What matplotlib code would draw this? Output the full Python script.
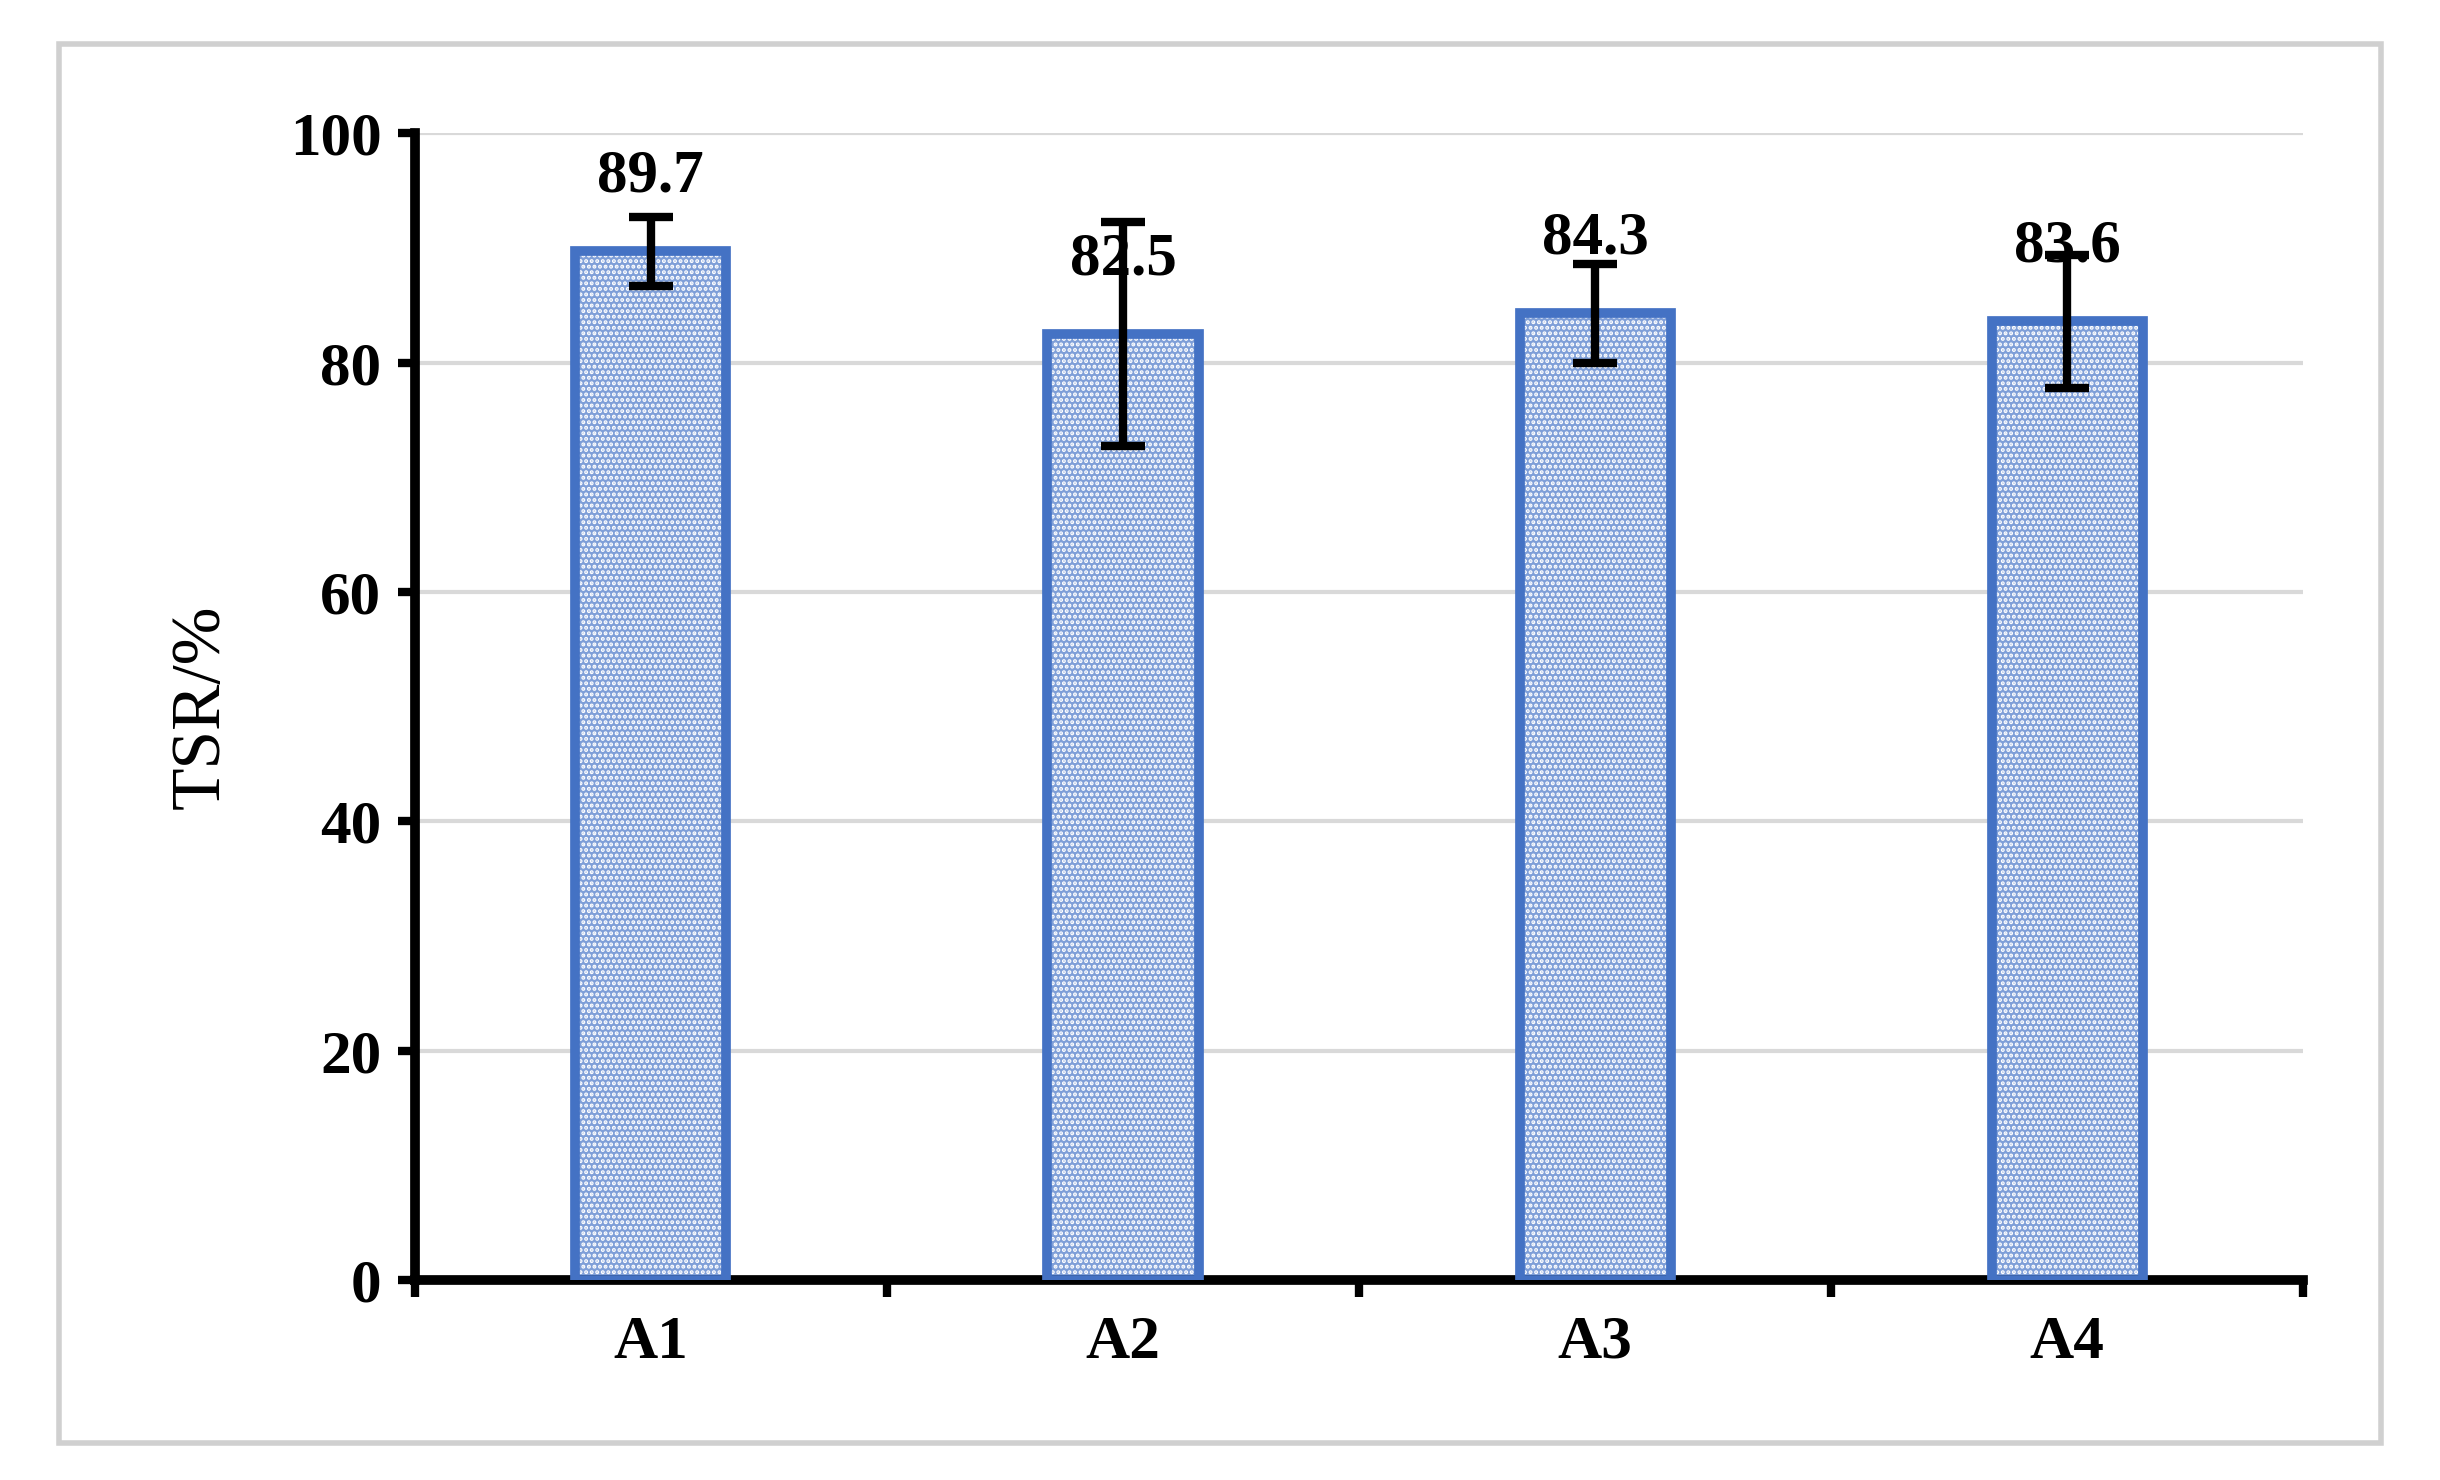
import matplotlib.pyplot as plt
from matplotlib.patches import Rectangle

groups = ['A1', 'A2', 'A3', 'A4']
tsr = [89.7, 82.5, 84.3, 83.6]
err = [3.0, 9.8, 4.3, 5.8]

plt.rcParams['font.family'] = 'Liberation Serif'
plt.rcParams['hatch.linewidth'] = 2.0

fig = plt.figure(figsize=(24.4, 14.8), dpi=100)
fig.patches.append(Rectangle((0.024, 0.025), 0.952, 0.945, transform=fig.transFigure,
                             fill=False, edgecolor='#d0d0d0', linewidth=4))
ax = fig.add_axes([0.17, 0.135, 0.774, 0.775])

x = range(len(groups))
ax.bar(x, tsr, width=0.32, color='#7f9fd8', edgecolor='white', hatch='...', linewidth=0, zorder=2)
ax.bar(x, tsr, width=0.32, fill=False, edgecolor='#4472c4', linewidth=7, zorder=3)
ax.errorbar(x, tsr, yerr=err, fmt='none', ecolor='black', elinewidth=6, capsize=16, capthick=6, zorder=5)
for i, v in enumerate(tsr):
    ax.text(i, v + 6.5, f'{v}', ha='center', va='center', fontsize=44, fontweight='bold', zorder=4)

ax.set_xlim(-0.5, 3.5)
ax.set_ylim(0, 100)
ax.set_yticks(range(0, 101, 20))
ax.yaxis.grid(True, color='#d9d9d9', linewidth=3, zorder=0)
ax.set_axisbelow(True)
ax.set_xticks(x)
ax.set_xticklabels(groups, fontsize=44, fontweight='bold')
ax.set_xticks([-0.5, 0.5, 1.5, 2.5, 3.5], minor=True)
ax.tick_params(axis='x', which='major', length=0, pad=25)
ax.tick_params(axis='x', which='minor', length=12, width=6, direction='out')
ax.tick_params(axis='y', length=12, width=6, labelsize=44, pad=12)
for t in ax.get_yticklabels():
    t.set_fontweight('bold')
ax.set_ylabel('TSR/%', fontsize=50, labelpad=40)
for s in ['top', 'right']:
    ax.spines[s].set_visible(False)
ax.spines['left'].set_linewidth(7)
ax.spines['bottom'].set_linewidth(7)

fig.savefig('out.png')
